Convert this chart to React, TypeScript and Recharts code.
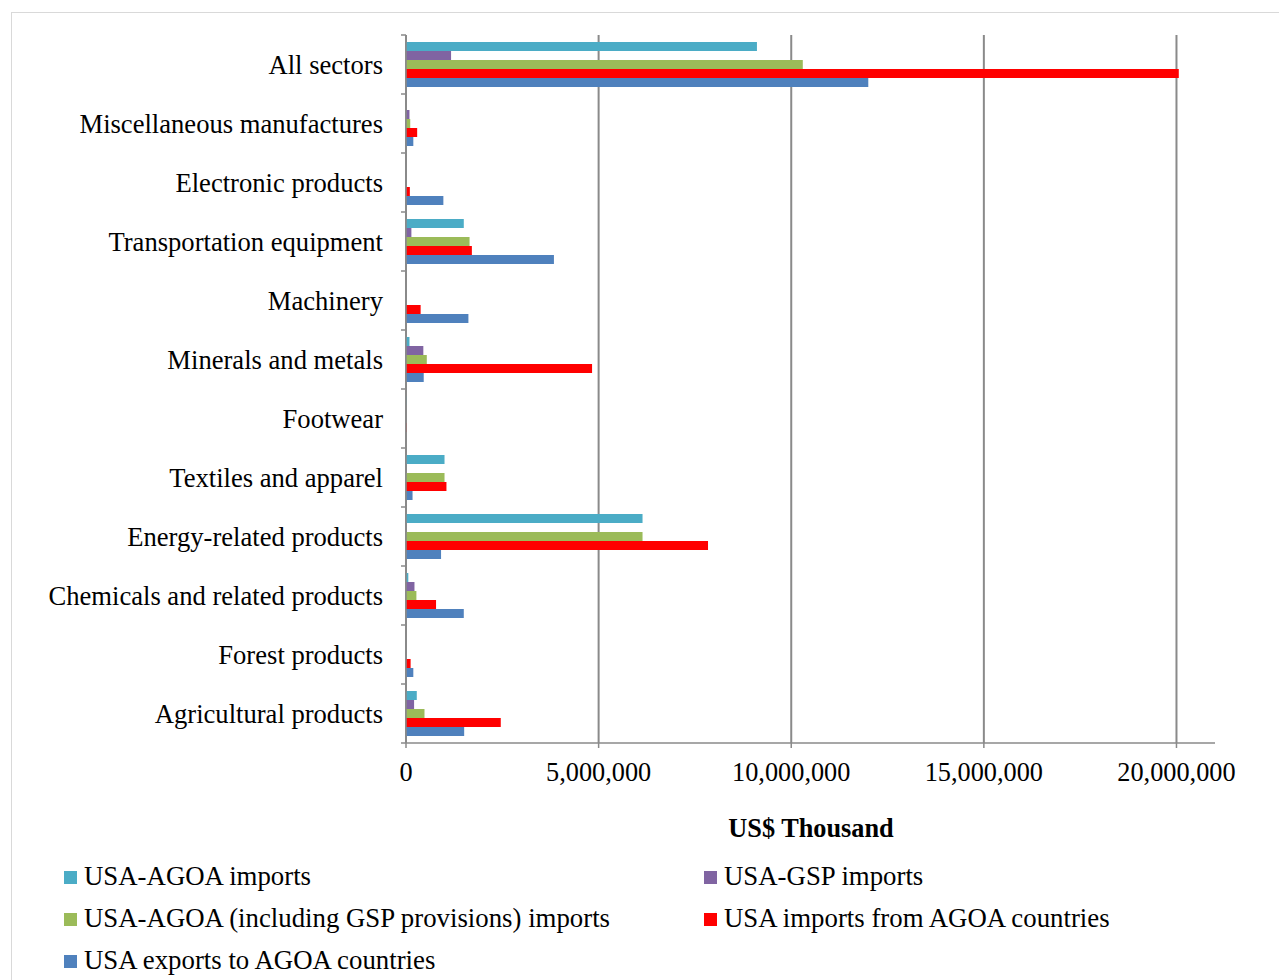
import { BarChart, Bar, XAxis, YAxis, CartesianGrid } from "recharts";

// ── Data (US$ Thousand) ─────────────────────────────────────────────────

const sectors = [
  "All sectors",
  "Miscellaneous manufactures",
  "Electronic products",
  "Transportation equipment",
  "Machinery",
  "Minerals and metals",
  "Footwear",
  "Textiles and apparel",
  "Energy-related products",
  "Chemicals and related products",
  "Forest products",
  "Agricultural products",
];

const agoaImports = [9110000, 0, 0, 1500000, 0, 90000, 10000, 1000000, 6140000, 60000, 0, 280000];
const gspImports = [1170000, 90000, 0, 140000, 0, 450000, 0, 0, 0, 220000, 0, 210000];
const agoaInclGsp = [10300000, 110000, 0, 1650000, 0, 540000, 0, 1000000, 6140000, 270000, 0, 480000];
const importsFromAgoa = [20060000, 290000, 100000, 1710000, 380000, 4830000, 10000, 1050000, 7840000, 780000, 120000, 2460000];
const exportsToAgoa = [12000000, 190000, 970000, 3840000, 1620000, 460000, 0, 170000, 910000, 1500000, 190000, 1510000];

const xTicks = [0, 5000000, 10000000, 15000000, 20000000];
const X_MAX = 21000000;

const series = [
  { key: "agoa", name: "USA-AGOA imports", color: "#4BACC6" },
  { key: "gsp", name: "USA-GSP imports", color: "#8064A2" },
  { key: "agoaGsp", name: "USA-AGOA (including GSP provisions) imports", color: "#9BBB59" },
  { key: "imports", name: "USA imports from AGOA countries", color: "#FF0000" },
  { key: "exports", name: "USA exports to AGOA countries", color: "#4F81BD" },
];

const data = sectors.map((sector, i) => ({
  sector,
  agoa: agoaImports[i],
  gsp: gspImports[i],
  agoaGsp: agoaInclGsp[i],
  imports: importsFromAgoa[i],
  exports: exportsToAgoa[i],
}));

const FONT = '"Liberation Serif", "Times New Roman", serif';
const AXIS = "#8a8a8a";
const HALF_BAND = 29.5;

function SectorTick(props: any) {
  const { x, y, payload, index } = props;
  const axisX = x + 23;
  return (
    <g>
      <line x1={axisX - 5} x2={axisX} y1={y - HALF_BAND} y2={y - HALF_BAND} stroke={AXIS} strokeWidth={1.5} />
      {index === sectors.length - 1 && (
        <line x1={axisX - 5} x2={axisX} y1={y + HALF_BAND} y2={y + HALF_BAND} stroke={AXIS} strokeWidth={1.5} />
      )}
      <text x={x} y={y} dy="0.34em" textAnchor="end" fontSize={26.6} fontFamily={FONT} fill="#000">
        {payload.value}
      </text>
    </g>
  );
}

// gridlines at the tick values; uses the axis scale when available
function gridX({ xAxis, offset }: any) {
  if (xAxis && typeof xAxis.scale === "function") return xTicks.map((t) => xAxis.scale(t));
  return xTicks.map((t) => offset.left + (offset.width * t) / X_MAX);
}

// legend layout: two columns, three rows
const legendSlots = [
  { left: 64, top: 876 },
  { left: 704, top: 876 },
  { left: 64, top: 918 },
  { left: 704, top: 918 },
  { left: 64, top: 960 },
];

export default function App() {
  return (
    <div
      style={{
        position: "absolute",
        left: 0,
        top: 0,
        width: 1279,
        height: 980,
        overflow: "hidden",
        background: "#fff",
        fontFamily: FONT,
      }}
    >
      {/* outer chart border */}
      <div
        style={{
          position: "absolute",
          left: 11,
          top: 12,
          width: 1320,
          height: 1020,
          border: "1px solid #d9d9d9",
        }}
      />

      <div style={{ position: "absolute", left: 0, top: 0 }}>
        <BarChart
          width={1279}
          height={860}
          data={data}
          layout="vertical"
          margin={{ top: 35, right: 64, bottom: 17, left: 0 }}
          barCategoryGap={7}
          barGap={0}
        >
          <CartesianGrid horizontal={false} stroke={AXIS} strokeWidth={2} verticalCoordinatesGenerator={gridX} />
          <XAxis
            type="number"
            domain={[0, X_MAX]}
            ticks={xTicks}
            tickFormatter={(v: number) => v.toLocaleString("en-US")}
            axisLine={{ stroke: AXIS, strokeWidth: 1.5 }}
            tickLine={{ stroke: AXIS, strokeWidth: 1.5 }}
            tickSize={5}
            tickMargin={14}
            height={100}
            tick={{ fontSize: 26.3, fontFamily: FONT, fill: "#000" }}
          />
          <YAxis
            type="category"
            dataKey="sector"
            width={406}
            axisLine={{ stroke: AXIS, strokeWidth: 1.5 }}
            tickLine={false}
            tickSize={0}
            tickMargin={23}
            interval={0}
            tick={<SectorTick />}
          />
          {series.map((s) => (
            <Bar key={s.key} dataKey={s.key} name={s.name} fill={s.color} isAnimationActive={false} />
          ))}
        </BarChart>
      </div>

      {/* axis title */}
      <div
        style={{
          position: "absolute",
          left: 611,
          width: 400,
          top: 814,
          height: 30,
          lineHeight: "30px",
          textAlign: "center",
          fontSize: 26.3,
          fontWeight: "bold",
        }}
      >
        US$ Thousand
      </div>

      {/* legend */}
      {series.map((s, i) => (
        <div
          key={s.key}
          style={{
            position: "absolute",
            left: legendSlots[i].left,
            top: legendSlots[i].top - 15,
            height: 30,
            display: "flex",
            alignItems: "center",
            whiteSpace: "nowrap",
            fontSize: 26.8,
          }}
        >
          <span style={{ width: 13, height: 13, background: s.color, marginRight: 7, marginTop: 2 }} />
          <span>{s.name}</span>
        </div>
      ))}
    </div>
  );
}
